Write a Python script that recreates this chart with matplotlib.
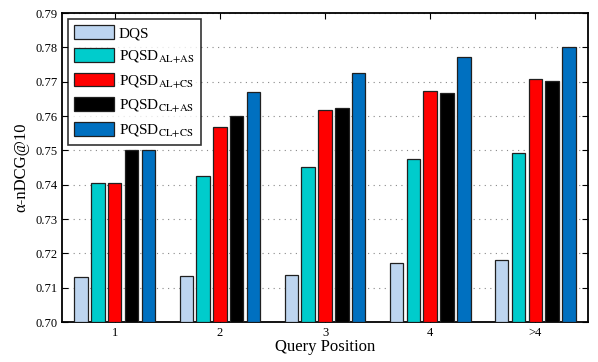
import numpy as np
import matplotlib
matplotlib.use("Agg")
import matplotlib.pyplot as plt

plt.rcParams["font.family"] = ["Liberation Serif", "DejaVu Serif"]
plt.rcParams["mathtext.fontset"] = "stix"

positions = ["1", "2", "3", "4", ">4"]
methods = ["DQS", r"PQSD$_{\mathrm{AL{+}AS}}$", r"PQSD$_{\mathrm{AL{+}CS}}$",
           r"PQSD$_{\mathrm{CL{+}AS}}$", r"PQSD$_{\mathrm{CL{+}CS}}$"]
dqs = [0.7131, 0.7133, 0.7136, 0.7172, 0.7181]
al_as = [0.7406, 0.7425, 0.7452, 0.7475, 0.7492]
al_cs = [0.7405, 0.7567, 0.7618, 0.7673, 0.7707]
cl_as = [0.7501, 0.7601, 0.7624, 0.7667, 0.7702]
cl_cs = [0.7501, 0.7671, 0.7725, 0.7772, 0.7801]
colors = ["#BDD5F0", "#00CCCC", "#FF0000", "#000000", "#0070C0"]

series = [dqs, al_as, al_cs, cl_as, cl_cs]

fig, ax = plt.subplots(figsize=(5.98, 3.62), dpi=100)
fig.subplots_adjust(left=0.104, right=0.983, top=0.964, bottom=0.11)

x = np.arange(1, len(positions) + 1)
pitch = 0.8 / len(series)
for i, (vals, lab, col) in enumerate(zip(series, methods, colors)):
    off = (i - (len(series) - 1) / 2) * pitch
    ax.bar(x + off, np.array(vals) - 0.70, bottom=0.70, width=pitch * 0.8,
           color=col, edgecolor="#202020", linewidth=0.9, label=lab, zorder=3)

ax.set_xlim(0.5, 5.5)
ax.set_ylim(0.70, 0.79)
ticks = np.arange(0.70, 0.7901, 0.01)
ax.set_yticks(ticks)
ax.set_yticklabels([f"{v:.2f}" for v in ticks])
ax.set_xticks(x)
ax.set_xticklabels(positions)
ax.tick_params(direction="in", top=True, right=True, labelsize=9, length=4)
ax.yaxis.grid(True, linestyle=(0, (1, 4)), color="#888888", linewidth=0.8, zorder=0)

for s in ax.spines.values():
    s.set_linewidth(1.3)

ax.set_xlabel("Query Position", fontsize=12, labelpad=0)
ax.set_ylabel("α-nDCG@10", fontsize=12, labelpad=4)

leg = ax.legend(loc="upper left", fontsize=11, frameon=True, fancybox=False,
                edgecolor="black", handlelength=2.6, handleheight=1.0,
                labelspacing=0.5, borderaxespad=0.4, handletextpad=0.3,
                borderpad=0.4)
leg.get_frame().set_linewidth(1.2)
leg.set_zorder(5)

fig.savefig("out.png", dpi=100)
